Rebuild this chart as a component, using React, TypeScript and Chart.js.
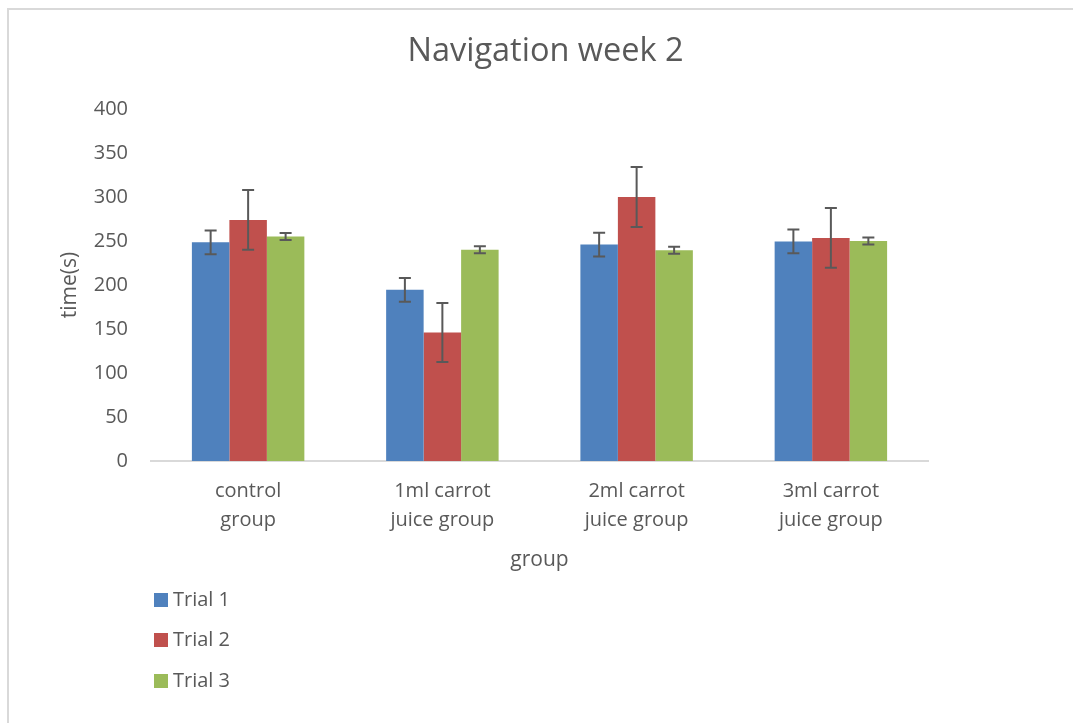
import React, { useEffect, useRef } from "react";
import { Chart, registerables } from "chart.js";

Chart.register(...registerables);

const categories: string[][] = [
  ["control", "group"],
  ["1ml carrot", "juice group"],
  ["2ml carrot", "juice group"],
  ["3ml carrot", "juice group"],
];
const seriesNames = ["Trial 1", "Trial 2", "Trial 3"];
const trial1 = [248.5, 194.5, 246, 249.5];
const trial2 = [274, 146, 300, 253.5];
const trial3 = [255, 240, 239.5, 250];
const err1 = [13.5, 13.5, 13.5, 13.5];
const err2 = [34, 33.5, 34, 34];
const err3 = [4, 4, 4, 4];
const colors = ["#4F81BD", "#C0504D", "#9BBB59"];
const yTicks = [0, 50, 100, 150, 200, 250, 300, 350, 400];

const FONT = "'Open Sans', 'Noto Sans', sans-serif";
const TEXT = "#595959";

const W = 1073;
const H = 723;

export default function App() {
  const ref = useRef<HTMLCanvasElement | null>(null);

  useEffect(() => {
    const canvas = ref.current;
    if (!canvas) return;
    const errs = [err1, err2, err3];

    const bgPlugin = {
      id: "bgBorder",
      beforeDraw(chart: any) {
        const ctx = chart.ctx;
        ctx.save();
        ctx.fillStyle = "#ffffff";
        ctx.fillRect(0, 0, chart.width, chart.height);
        ctx.strokeStyle = "#d9d9d9";
        ctx.lineWidth = 2;
        ctx.strokeRect(8, 9, chart.width + 20, chart.height + 20);
        ctx.restore();
      },
    };

    const errorBars = {
      id: "errorBars",
      afterDatasetsDraw(chart: any) {
        const ctx = chart.ctx;
        const ys = chart.scales.y;
        ctx.save();
        ctx.strokeStyle = "#595959";
        ctx.lineWidth = 2;
        chart.data.datasets.forEach((ds: any, i: number) => {
          const meta = chart.getDatasetMeta(i);
          meta.data.forEach((el: any, j: number) => {
            const v = ds.data[j];
            const e = errs[i][j];
            const x = el.x;
            const yt = ys.getPixelForValue(v + e);
            const yb = ys.getPixelForValue(v - e);
            ctx.beginPath();
            ctx.moveTo(x, yt);
            ctx.lineTo(x, yb);
            ctx.moveTo(x - 6, yt);
            ctx.lineTo(x + 6, yt);
            ctx.moveTo(x - 6, yb);
            ctx.lineTo(x + 6, yb);
            ctx.stroke();
          });
        });
        ctx.restore();
      },
    };

    const legendPlugin = {
      id: "vLegend",
      afterDraw(chart: any) {
        const ctx = chart.ctx;
        const left = chart.chartArea.left + 3;
        const base = chart.chartArea.bottom;
        const rows = [139, 179, 220];
        ctx.save();
        ctx.font = `20px ${FONT}`;
        ctx.textBaseline = "middle";
        ctx.textAlign = "left";
        chart.data.datasets.forEach((ds: any, i: number) => {
          const y = base + rows[i];
          ctx.fillStyle = ds.backgroundColor;
          ctx.fillRect(left, y - 7, 14, 14);
          ctx.fillStyle = TEXT;
          ctx.fillText(ds.label, left + 19, y);
        });
        ctx.restore();
      },
    };

    const chart = new Chart(canvas, {
      type: "bar",
      data: {
        labels: categories,
        datasets: [trial1, trial2, trial3].map((d, i) => ({
          label: seriesNames[i],
          data: d,
          backgroundColor: colors[i],
          borderWidth: 0,
          barPercentage: 1,
          categoryPercentage: 0.579,
          yAxisID: "y",
        })),
      },
      options: {
        responsive: false,
        animation: false,
        devicePixelRatio: 1,
        layout: { padding: { left: 18, right: 0, top: 8, bottom: 142 } },
        plugins: {
          legend: { display: false },
          tooltip: { enabled: false },
          title: {
            display: true,
            text: "Navigation week 2",
            color: TEXT,
            font: { family: FONT, size: 32.5, weight: "normal", lineHeight: 1.2 },
            padding: { top: 24, bottom: 38 },
          },
        },
        scales: {
          x: {
            grid: { display: false, drawTicks: false },
            border: { display: true, color: "#d9d9d9", width: 2 },
            ticks: {
              color: TEXT,
              font: { family: FONT, size: 20, lineHeight: 1.45 },
              padding: 16,
              maxRotation: 0,
              autoSkip: false,
            },
            title: {
              display: true,
              text: "group",
              color: TEXT,
              font: { family: FONT, size: 21, lineHeight: 1.4 },
              padding: { top: 0, bottom: 6 },
            },
            afterFit(s: any) {
              s.height = 120;
            },
          },
          y: {
            min: 0,
            max: 400,
            afterBuildTicks(s: any) {
              s.ticks = yTicks.map((v) => ({ value: v }));
            },
            grid: { display: false, drawTicks: false },
            border: { display: false },
            ticks: {
              color: TEXT,
              font: { family: FONT, size: 20 },
              padding: 23,
            },
            title: {
              display: true,
              text: "time(s)",
              color: TEXT,
              font: { family: FONT, size: 21, lineHeight: 1.4 },
              padding: { top: 37, bottom: 0 },
            },
            afterFit(s: any) {
              s.width = 133;
            },
          },
          yRight: {
            type: "linear",
            position: "right",
            display: true,
            min: 0,
            max: 400,
            grid: { display: false, drawTicks: false },
            border: { display: false },
            ticks: { display: false },
            afterFit(s: any) {
              s.width = 145;
            },
          },
        },
      },
      plugins: [bgPlugin, errorBars, legendPlugin],
    });

    return () => chart.destroy();
  }, []);

  return (
    <div style={{ position: "fixed", left: 0, top: 0, width: W, height: H, background: "#fff" }}>
      <canvas ref={ref} width={W} height={H} style={{ width: W, height: H, display: "block" }} />
    </div>
  );
}
